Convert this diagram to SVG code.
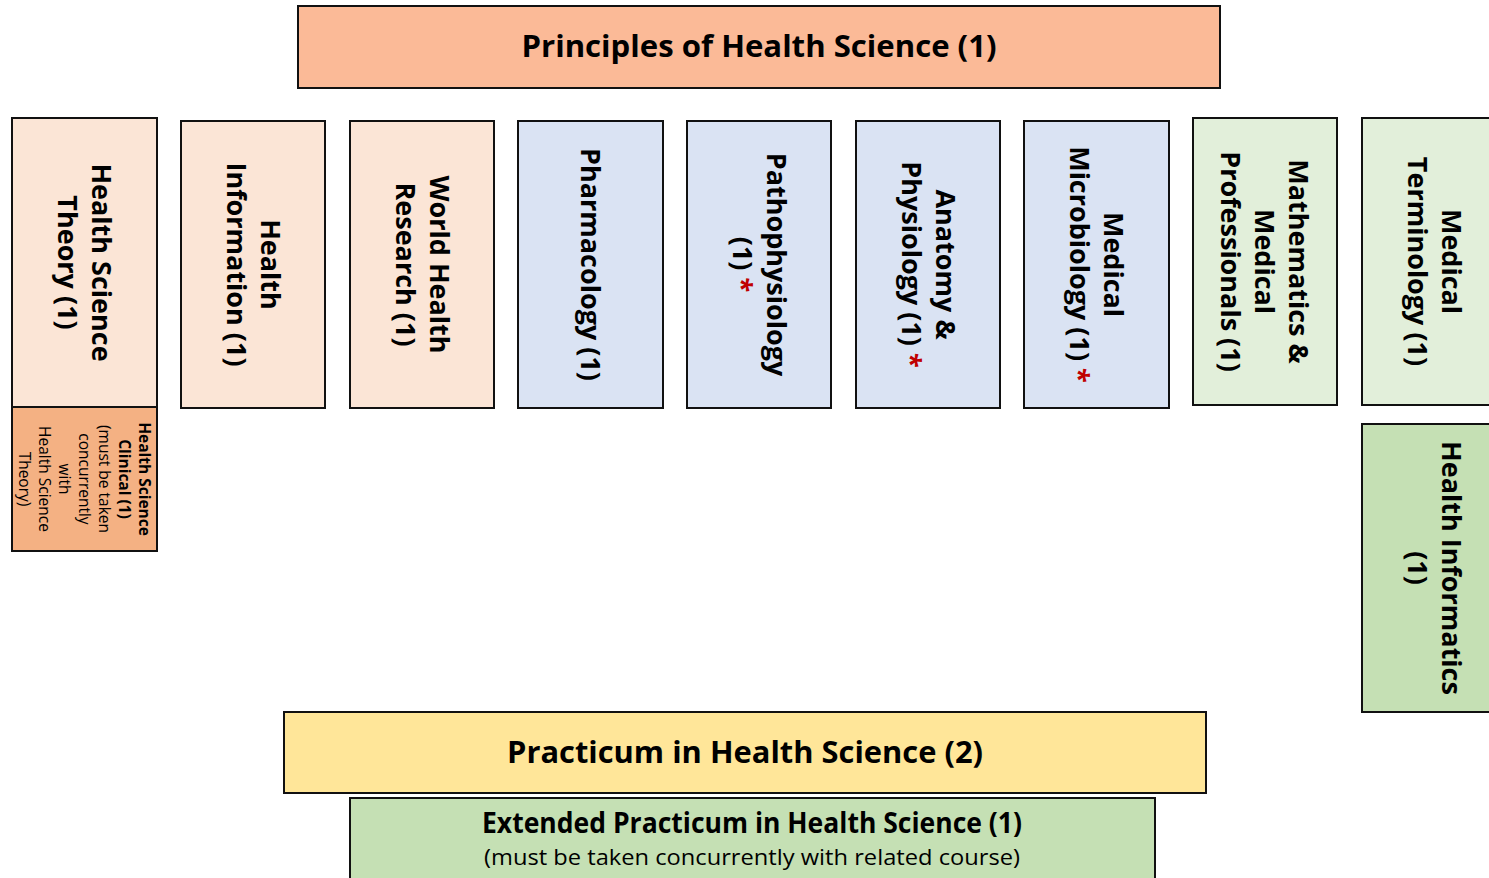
<svg xmlns="http://www.w3.org/2000/svg" width="1489" height="878" viewBox="0 0 1489 878">
<style>
.box{stroke:#111111;stroke-width:2}
.rt{font-family:"Open Sans","Noto Sans",sans-serif;font-weight:bold;font-size:27px;text-anchor:middle;fill:#000}
.sm{font-family:"Open Sans","Noto Sans",sans-serif;font-size:15.5px;text-anchor:middle;fill:#000}
.smb{font-weight:bold}
.hz{font-family:"Open Sans","Noto Sans",sans-serif;font-weight:bold;font-size:31px;text-anchor:middle;fill:#000}
.hze{font-family:"Open Sans","Noto Sans",sans-serif;font-weight:bold;font-size:28px;text-anchor:middle;fill:#000}
.hzs{font-family:"Open Sans","Noto Sans",sans-serif;font-size:21px;text-anchor:middle;fill:#000}
.ast{fill:#C00000}
.peach{fill:#FBE5D6}.blue{fill:#DAE3F3}.lgreen{fill:#E2EFDA}.green{fill:#C5E0B4}
</style>
<rect width="1489" height="878" fill="#ffffff"/>
<g id="principles">
<rect class="box" x="298" y="6" width="922" height="82" fill="#FBBA97"/>
<text class="hz" x="759" y="57" textLength="475" lengthAdjust="spacingAndGlyphs">Principles of Health Science (1)</text>
</g>
<g id="hs-theory">
<rect class="box peach" x="12" y="118" width="145" height="289"/>
<g transform="translate(84.5,262.5) rotate(90)">
<text class="rt" x="0" y="-7.5">Health Science</text>
<text class="rt" x="0" y="26.5">Theory (1)</text>
</g>
</g>
<g id="hs-clinical">
<rect class="box" x="12" y="407" width="145" height="144" fill="#F4B183"/>
<g transform="translate(84.5,479) rotate(90)">
<text class="sm smb" x="0" y="-54">Health Science</text>
<text class="sm smb" x="0" y="-34">Clinical (1)</text>
<text class="sm" x="0" y="-14">(must be taken</text>
<text class="sm" x="0" y="6">concurrently</text>
<text class="sm" x="0" y="26">with</text>
<text class="sm" x="0" y="46">Health Science</text>
<text class="sm" x="0" y="66">Theory)</text>
</g>
</g>
<g id="health-information">
<rect class="box peach" x="181" y="121" width="144" height="287"/>
<g transform="translate(253,264.5) rotate(90)">
<text class="rt" x="0" y="-7.5">Health</text>
<text class="rt" x="0" y="26.5">Information (1)</text>
</g>
</g>
<g id="world-health">
<rect class="box peach" x="350" y="121" width="144" height="287"/>
<g transform="translate(422,264.5) rotate(90)">
<text class="rt" x="0" y="-7.5">World Health</text>
<text class="rt" x="0" y="26.5">Research (1)</text>
</g>
</g>
<g id="pharmacology">
<rect class="box blue" x="518" y="121" width="145" height="287"/>
<g transform="translate(590.5,264.5) rotate(90)">
<text class="rt" x="0" y="9.5">Pharmacology (1)</text>
</g>
</g>
<g id="pathophysiology">
<rect class="box blue" x="687" y="121" width="144" height="287"/>
<g transform="translate(759,264.5) rotate(90)">
<text class="rt" x="0" y="-7.5">Pathophysiology</text>
<text class="rt" x="0" y="26.5">(1) <tspan class="ast">*</tspan></text>
</g>
</g>
<g id="anatomy">
<rect class="box blue" x="856" y="121" width="144" height="287"/>
<g transform="translate(928,264.5) rotate(90)">
<text class="rt" x="0" y="-7.5">Anatomy &amp;</text>
<text class="rt" x="0" y="26.5">Physiology (1) <tspan class="ast">*</tspan></text>
</g>
</g>
<g id="microbiology">
<rect class="box blue" x="1024" y="121" width="145" height="287"/>
<g transform="translate(1096.5,264.5) rotate(90)">
<text class="rt" x="0" y="-7.5">Medical</text>
<text class="rt" x="0" y="26.5">Microbiology (1) <tspan class="ast">*</tspan></text>
</g>
</g>
<g id="mathematics">
<rect class="box lgreen" x="1193" y="118" width="144" height="287"/>
<g transform="translate(1265,261.5) rotate(90)">
<text class="rt" x="0" y="-24">Mathematics &amp;</text>
<text class="rt" x="0" y="10">Medical</text>
<text class="rt" x="0" y="44">Professionals (1)</text>
</g>
</g>
<g id="terminology">
<rect class="box lgreen" x="1362" y="118" width="145" height="287"/>
<g transform="translate(1434.5,261.5) rotate(90)">
<text class="rt" x="0" y="-7.5">Medical</text>
<text class="rt" x="0" y="26.5">Terminology (1)</text>
</g>
</g>
<g id="informatics">
<rect class="box green" x="1362" y="424" width="145" height="288"/>
<g transform="translate(1434.5,568) rotate(90)">
<text class="rt" x="0" y="-7.5">Health Informatics</text>
<text class="rt" x="0" y="26.5">(1)</text>
</g>
</g>
<g id="practicum">
<rect class="box" x="284" y="712" width="922" height="81" fill="#FFE699"/>
<text class="hz" x="745" y="763" textLength="476" lengthAdjust="spacingAndGlyphs">Practicum in Health Science (2)</text>
</g>
<g id="extended-practicum">
<rect class="box green" x="350" y="798" width="805" height="90"/>
<text class="hze" x="752" y="833" textLength="540" lengthAdjust="spacingAndGlyphs">Extended Practicum in Health Science (1)</text>
<text class="hzs" x="752" y="865" textLength="536" lengthAdjust="spacingAndGlyphs">(must be taken concurrently  with related course)</text>
</g>
<g id="connectors"></g>
</svg>
